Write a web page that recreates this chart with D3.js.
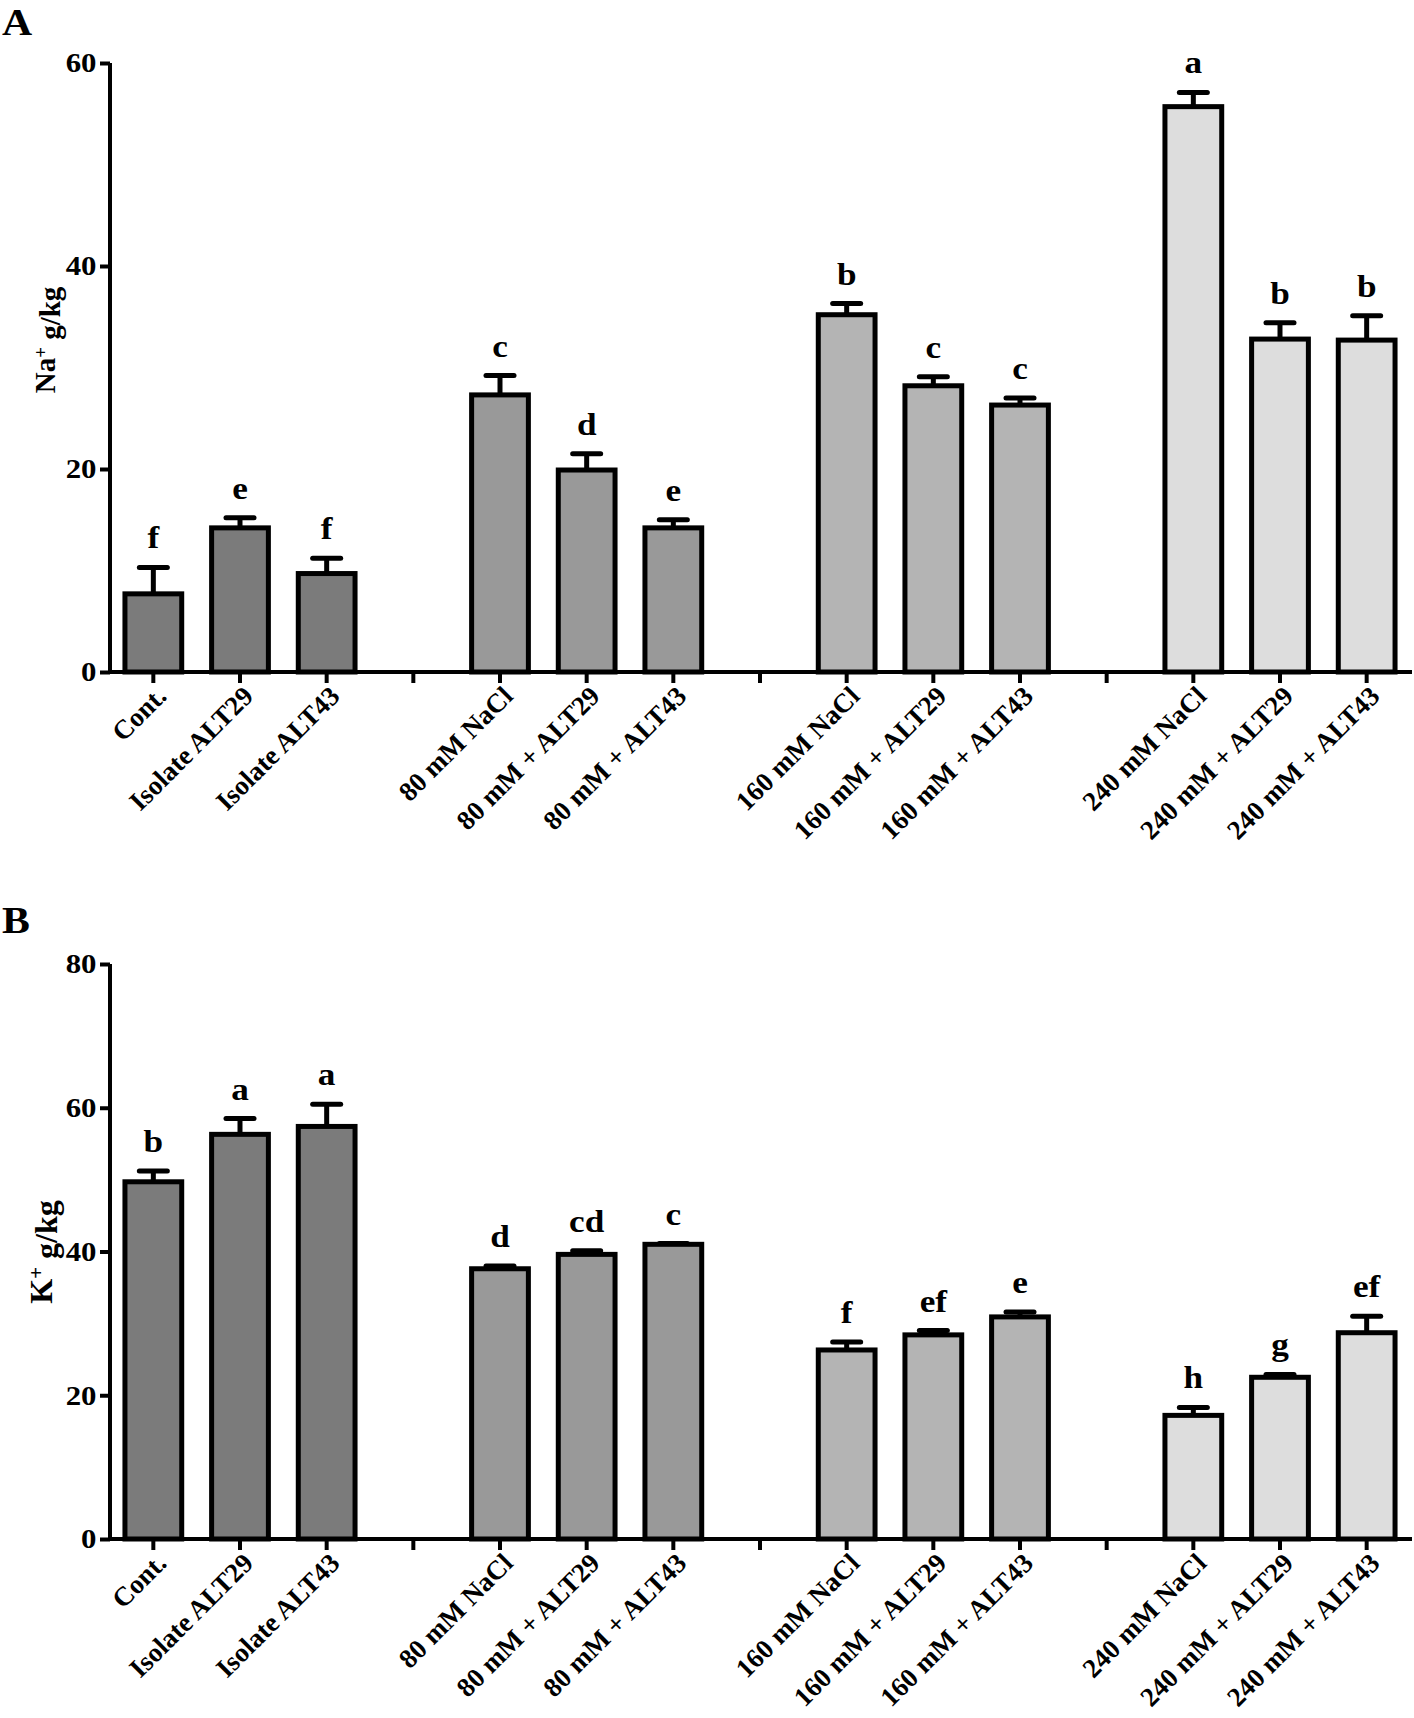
<!DOCTYPE html>
<html>
<head>
<meta charset="utf-8">
<script src="https://cdn.jsdelivr.net/npm/d3@7"></script>
<style>
  html, body { margin: 0; padding: 0; background: #fff; }
  svg text { font-family: "Liberation Serif", "Times New Roman", serif; font-weight: bold; fill: #000; }
</style>
</head>
<body>
<svg id="chart" width="1414" height="1718"></svg>
<script>
const categories = ["Cont.", "Isolate ALT29", "Isolate ALT43",
  "80 mM NaCl", "80 mM + ALT29", "80 mM + ALT43",
  "160 mM NaCl", "160 mM + ALT29", "160 mM + ALT43",
  "240 mM NaCl", "240 mM + ALT29", "240 mM + ALT43"];
const groupOf = [0, 0, 0, 1, 1, 1, 2, 2, 2, 3, 3, 3];
const groupColors = ["#7b7b7b", "#999999", "#b4b4b4", "#dddddd"];

const naMean = [7.7, 14.2, 9.7, 27.3, 19.9, 14.2, 35.2, 28.2, 26.3, 55.7, 32.8, 32.7];
const naErr = [2.6, 1.0, 1.5, 1.9, 1.6, 0.8, 1.1, 0.9, 0.7, 1.4, 1.6, 2.4];
const naLetters = ["f", "e", "f", "c", "d", "e", "b", "c", "c", "a", "b", "b"];
const naTicks = [0, 20, 40, 60];

const kMean = [49.7, 56.3, 57.4, 37.6, 39.6, 41.0, 26.3, 28.4, 30.9, 17.2, 22.5, 28.7];
const kErr = [1.5, 2.2, 3.1, 0.4, 0.5, 0.1, 1.1, 0.6, 0.7, 1.1, 0.4, 2.3];
const kLetters = ["b", "a", "a", "d", "cd", "c", "f", "ef", "e", "h", "g", "ef"];
const kTicks = [0, 20, 40, 60, 80];

// slot domain: categories with a gap slot between groups
const slots = [];
categories.forEach((c, i) => {
  if (i > 0 && groupOf[i] !== groupOf[i - 1]) slots.push("gap" + groupOf[i]);
  slots.push(c);
});

const svg = d3.select("#chart");
const SX = 1.1; // horizontal stretch of glyphs seen in the reference

function panel(cfg) {
  const g = svg.append("g");
  const x = d3.scaleBand().domain(slots).range([110, 1410]).paddingInner(0).paddingOuter(0);
  const y = d3.scaleLinear().domain([0, cfg.ymax]).range([cfg.y0, cfg.y1]);
  const bw = x.bandwidth() * 0.655;
  const sw = 5;

  // panel letter
  g.append("text").attr("transform", `translate(2,${cfg.letterY}) scale(${SX},1)`)
    .attr("font-size", 38).text(cfg.letter);

  // bars
  categories.forEach((c, i) => {
    const cx = x(c) + x.bandwidth() / 2;
    const top = y(cfg.mean[i]);
    const et = y(cfg.mean[i] + cfg.err[i]);
    g.append("line").attr("x1", cx).attr("x2", cx).attr("y1", top).attr("y2", et)
      .attr("stroke", "#000").attr("stroke-width", sw);
    g.append("line").attr("x1", cx - 14).attr("x2", cx + 14).attr("y1", et).attr("y2", et)
      .attr("stroke", "#000").attr("stroke-width", sw).attr("stroke-linecap", "round");
    g.append("rect").attr("x", cx - bw / 2).attr("y", top).attr("width", bw).attr("height", cfg.y0 - top)
      .attr("fill", groupColors[groupOf[i]]).attr("stroke", "#000").attr("stroke-width", sw);
    g.append("text").attr("transform", `translate(${cx},${et - 19}) scale(${SX},1)`)
      .attr("text-anchor", "middle").attr("font-size", 32).text(cfg.letters[i]);
  });

  // y axis
  const ya = g.append("g").attr("transform", "translate(110,0)")
    .call(d3.axisLeft(y).tickValues(cfg.ticks).tickSize(10).tickPadding(3).tickFormat(d3.format("d")));
  ya.select(".domain").attr("stroke-width", 4).attr("d", `M0,${cfg.y1}V${cfg.y0}`);
  ya.selectAll(".tick line").attr("stroke-width", 4);
  ya.selectAll(".tick text").attr("font-size", 28).attr("font-family", "Liberation Serif").attr("font-weight", "bold")
    .attr("transform", `scale(${SX},1)`).attr("x", -13.5 / SX);

  // x axis
  const xa = g.append("g").attr("transform", `translate(0,${cfg.y0})`)
    .call(d3.axisBottom(x).tickSize(11).tickFormat(""));
  xa.select(".domain").attr("stroke-width", 4).attr("d", `M108,0H1412`);
  xa.selectAll(".tick line").attr("stroke-width", 4);

  categories.forEach((c) => {
    const cx = x(c) + x.bandwidth() / 2;
    g.append("text")
      .attr("transform", `translate(${cx + 8},${cfg.y0 + 19}) rotate(-45)`)
      .attr("text-anchor", "end").attr("dy", "0.35em").attr("font-size", 27)
      .text(c);
  });

  // y label
  const yl = g.append("text")
    .attr("transform", `translate(${cfg.labelX},${cfg.labelY}) rotate(-90)`)
    .attr("text-anchor", "middle").attr("font-size", cfg.labelSize);
  yl.append("tspan").text(cfg.ion);
  yl.append("tspan").attr("dy", "-0.45em").attr("font-size", cfg.labelSize * 0.65).text("+");
  yl.append("tspan").attr("dy", "0.45em").text(" g/kg");
}

panel({ letter: "A", letterY: 35, y0: 672, y1: 63, ymax: 60, ticks: naTicks,
  mean: naMean, err: naErr, letters: naLetters, ion: "Na", labelX: 55, labelY: 340, labelSize: 29 });
panel({ letter: "B", letterY: 933, y0: 1539, y1: 964, ymax: 80, ticks: kTicks,
  mean: kMean, err: kErr, letters: kLetters, ion: "K", labelX: 52, labelY: 1252, labelSize: 32 });
</script>
</body>
</html>
